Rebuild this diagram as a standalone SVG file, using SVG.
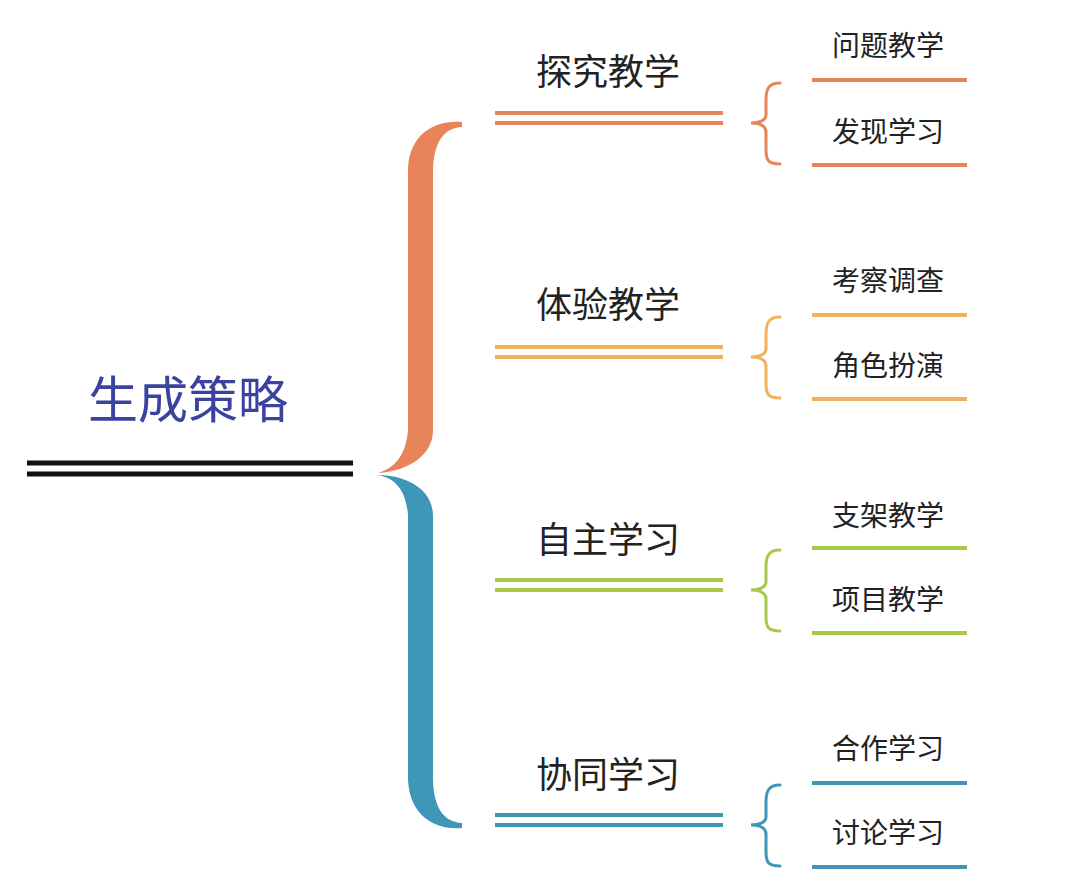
<svg xmlns="http://www.w3.org/2000/svg" width="1080" height="884" viewBox="0 0 1080 884">
<style>
.t{font-family:"Noto Sans CJK SC",sans-serif;fill:#222;text-anchor:middle}
.m{font-size:36px}.s{font-size:28px}
.l{fill:none;stroke-width:4}
.b{fill:none;stroke-width:3;stroke-linecap:round}
.o{stroke:#e8845a}.y{stroke:#f0b25a}.g{stroke:#a8c84a}.c{stroke:#3f97b8}
</style>
<rect width="1080" height="884" fill="#fff"/>
<g id="root">
<text class="t" x="188" y="418" font-size="50" style="fill:#3a44a0">生成策略</text>
<path d="M27,463H353M27,474H353" stroke="#111" stroke-width="5"/>
</g>
<g id="connectors">
<path fill="#e8845a" d="M462,122 C440,120 409,130 408,170 L408,430 C406,455 395,468 378,473 C400,472 433,460 433,430 L433,170 C434,140 445,128 462,127 Z"/>
<path fill="#3f97b8" d="M378,475 C395,478 406,490 408,515 L408,780 C410,820 440,830 462,828 L462,823 C445,822 434,810 433,780 L433,515 C432,485 400,475 378,475 Z"/>
<path class="b o" d="M780,83 C768,83 766,90 766,100 L766,115 C766,120 760,123 751,123 C760,123 766,126 766,132 L766,150 C766,160 768,164 780,164"/>
<path class="b y" d="M780,317 C768,317 766,324 766,334 L766,349 C766,354 760,357 751,357 C760,357 766,360 766,366 L766,384 C766,394 768,398 780,398"/>
<path class="b g" d="M780,550 C768,550 766,557 766,567 L766,582 C766,587 760,590 751,590 C760,590 766,593 766,599 L766,617 C766,627 768,631 780,631"/>
<path class="b c" d="M780,785 C768,785 766,792 766,802 L766,817 C766,822 760,825 751,825 C760,825 766,828 766,834 L766,852 C766,862 768,866 780,866"/>
</g>
<g id="n1"><text class="t m" x="608" y="85">探究教学</text><path class="l o" d="M495,113H723M495,123H723"/></g>
<g id="n2"><text class="t m" x="608" y="318">体验教学</text><path class="l y" d="M495,347H723M495,357H723"/></g>
<g id="n3"><text class="t m" x="608" y="553">自主学习</text><path class="l g" d="M495,580H723M495,590H723"/></g>
<g id="n4"><text class="t m" x="608" y="788">协同学习</text><path class="l c" d="M495,815H723M495,825H723"/></g>
<g id="s1"><text class="t s" x="888" y="56">问题教学</text><path class="l o" d="M812,80H967"/></g>
<g id="s2"><text class="t s" x="888" y="142">发现学习</text><path class="l o" d="M812,165H967"/></g>
<g id="s3"><text class="t s" x="888" y="291">考察调查</text><path class="l y" d="M812,315H967"/></g>
<g id="s4"><text class="t s" x="888" y="376">角色扮演</text><path class="l y" d="M812,399H967"/></g>
<g id="s5"><text class="t s" x="888" y="526">支架教学</text><path class="l g" d="M812,548H967"/></g>
<g id="s6"><text class="t s" x="888" y="610">项目教学</text><path class="l g" d="M812,633H967"/></g>
<g id="s7"><text class="t s" x="888" y="759">合作学习</text><path class="l c" d="M812,783H967"/></g>
<g id="s8"><text class="t s" x="888" y="843">讨论学习</text><path class="l c" d="M812,867H967"/></g>
</svg>
